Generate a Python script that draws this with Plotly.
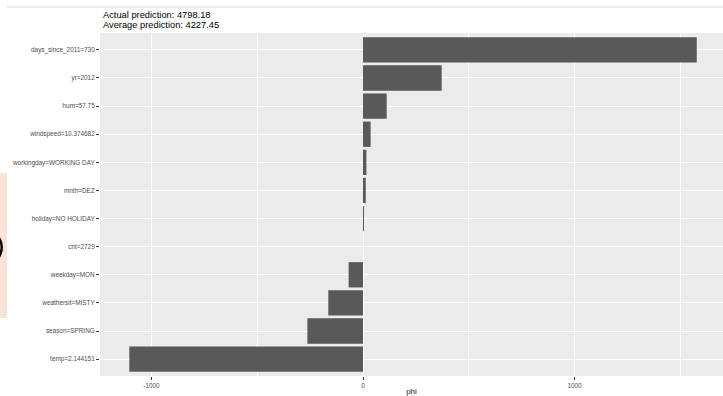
import plotly.graph_objects as go

# Feature contributions (Shapley values) for one prediction
features = [
    "days_since_2011=730", "yr=2012", "hum=57.75", "windspeed=10.374682",
    "workingday=WORKING DAY", "mnth=DEZ", "holiday=NO HOLIDAY", "cnt=2729",
    "weekday=MON", "weathersit=MISTY", "season=SPRING", "temp=2.144151",
]
phi = [1578, 372, 112, 36, 16, 13, 4, 0, -68, -164, -263, -1105]

actual_prediction = 4798.18
average_prediction = 4227.45

W, H = 723, 396
L, R, T, B = 100, 0, 33, 20
plot_w = W - L - R
plot_h = H - T - B


def px_x(x):
    return (x - L) / plot_w


def px_y(y):
    return (H - B - y) / plot_h


fig = go.Figure(
    go.Bar(
        x=phi,
        y=features,
        orientation="h",
        width=0.9,
        marker=dict(color="#595959", line=dict(width=0)),
        hovertemplate="%{y}: %{x}<extra></extra>",
    )
)

tick_font = dict(family="Liberation Sans, Arial, sans-serif", size=6.4, color="#4D4D4D")

fig.update_layout(
    width=W,
    height=H,
    margin=dict(l=L, r=R, t=T, b=B, autoexpand=False),
    paper_bgcolor="white",
    plot_bgcolor="#EBEBEB",
    showlegend=False,
    bargap=0.1,
    font=dict(family="Liberation Sans, Arial, sans-serif"),
)

fig.update_xaxes(
    range=[-1243.5, 1702],
    tickvals=[-1000, 0, 1000],
    ticktext=["-1000", "0", "1000"],
    ticks="outside",
    ticklen=3,
    tickwidth=0.8,
    tickcolor="#333333",
    tickfont=tick_font,
    showgrid=True,
    gridcolor="white",
    gridwidth=1.1,
    zeroline=True,
    zerolinecolor="white",
    zerolinewidth=1.1,
    minor=dict(tickvals=[-500, 500, 1500], showgrid=True, gridcolor="white",
               gridwidth=0.5, ticks=""),
    showline=False,
    title=dict(text="phi", font=dict(size=8, color="#1a1a1a"), standoff=3),
    fixedrange=True,
)

fig.update_yaxes(
    categoryorder="array",
    categoryarray=features,
    range=[11.6, -0.6],
    ticks="outside",
    ticklen=3,
    tickwidth=0.8,
    tickcolor="#333333",
    tickfont=tick_font,
    showgrid=True,
    gridcolor="white",
    gridwidth=1.1,
    zeroline=False,
    showline=False,
    fixedrange=True,
)

# Subtitle lines above the panel
title_font = dict(family="Liberation Sans, Arial, sans-serif", size=9.3, color="black")
fig.add_annotation(
    text=f"Actual prediction: {actual_prediction:.2f}",
    xref="paper", yref="paper", x=px_x(101), y=px_y(15),
    xanchor="left", yanchor="middle", showarrow=False, font=title_font,
)
fig.add_annotation(
    text=f"Average prediction: {average_prediction:.2f}",
    xref="paper", yref="paper", x=px_x(101), y=px_y(24.5),
    xanchor="left", yanchor="middle", showarrow=False, font=title_font,
)

# Page chrome around the chart
fig.add_shape(
    type="line", xref="paper", yref="paper",
    x0=px_x(7), x1=px_x(W), y0=px_y(7), y1=px_y(7),
    line=dict(color="#DCDCDC", width=1),
)
fig.add_shape(
    type="rect", xref="paper", yref="paper",
    x0=px_x(0), x1=px_x(7), y0=px_y(173), y1=px_y(318),
    fillcolor="#FBE4D6", line=dict(width=0), layer="below",
)
# Edge of a bracket glyph peeking in at the left border
arc = "M {:.5f},{:.5f} Q {:.5f},{:.5f} {:.5f},{:.5f}".format(
    px_x(-1), px_y(238), px_x(4.5), px_y(247), px_x(-1), px_y(257)
)
fig.add_shape(
    type="path", xref="paper", yref="paper", path=arc,
    line=dict(color="black", width=2.5),
)

fig.write_html("out.html")
